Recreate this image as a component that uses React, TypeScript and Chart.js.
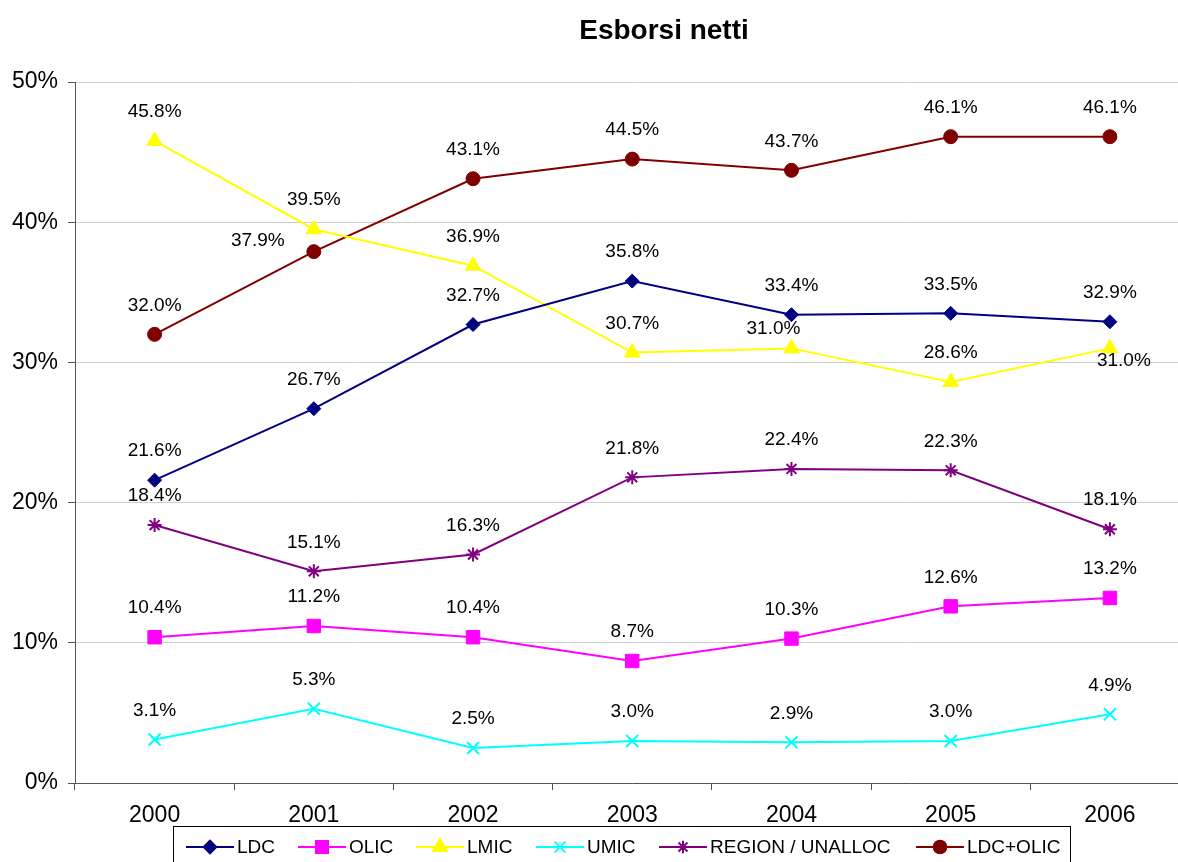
import React, { useEffect, useRef } from "react";
import { Chart, registerables } from "chart.js";
import { drawPoint } from "chart.js/helpers";

Chart.register(...registerables);

const categories = ["2000", "2001", "2002", "2003", "2004", "2005", "2006"];
const yTicks = [0, 10, 20, 30, 40, 50];

const ldc = [21.6, 26.7, 32.7, 35.8, 33.4, 33.5, 32.9];
const olic = [10.4, 11.2, 10.4, 8.7, 10.3, 12.6, 13.2];
const lmic = [45.8, 39.5, 36.9, 30.7, 31.0, 28.6, 31.0];
const umic = [3.1, 5.3, 2.5, 3.0, 2.9, 3.0, 4.9];
const region = [18.4, 15.1, 16.3, 21.8, 22.4, 22.3, 18.1];
const ldcOlic = [32.0, 37.9, 43.1, 44.5, 43.7, 46.1, 46.1];

const seriesNames = ["LDC", "OLIC", "LMIC", "UMIC", "REGION / UNALLOC", "LDC+OLIC"];
const seriesValues = [ldc, olic, lmic, umic, region, ldcOlic];
const seriesColors = ["#000080", "#FF00FF", "#FFFF00", "#00FFFF", "#800080", "#800000"];
const seriesPoints = ["rectRot", "rect", "triangle", "crossRot", "star", "circle"];
const seriesRadius = [7, 9.5, 9, 8.5, 7, 7];

const FONT = 'Arial, "Liberation Sans", sans-serif';

// label offsets (dx, dy) relative to the point; default above
const labelOffsets: Record<string, [number, number]> = {
  "5:1": [-56, -11],
  "2:4": [-18, -20],
  "2:6": [14, 12],
};

const labelsPlugin = {
  id: "dataLabels",
  afterDatasetsDraw(chart: any) {
    const ctx = chart.ctx;
    ctx.save();
    ctx.font = `19px ${FONT}`;
    ctx.fillStyle = "#000";
    ctx.textAlign = "center";
    ctx.textBaseline = "middle";
    chart.data.datasets.forEach((ds: any, di: number) => {
      const meta = chart.getDatasetMeta(di);
      meta.data.forEach((pt: any, i: number) => {
        const off = labelOffsets[`${di}:${i}`] || [0, -29];
        ctx.fillText(ds.data[i].toFixed(1) + "%", pt.x + off[0], pt.y + off[1]);
      });
    });
    ctx.restore();
  },
};

const legendItemsX = [210, 322, 440, 560, 683, 940];

const decorPlugin = {
  id: "decor",
  afterDraw(chart: any) {
    const ctx = chart.ctx;
    ctx.save();
    // title
    ctx.font = `bold 28px ${FONT}`;
    ctx.fillStyle = "#000";
    ctx.textAlign = "center";
    ctx.textBaseline = "middle";
    ctx.fillText("Esborsi netti", 664, 31);
    // legend box
    ctx.fillStyle = "#fff";
    ctx.fillRect(173, 826, 897, 50);
    ctx.strokeStyle = "#000";
    ctx.lineWidth = 1;
    ctx.strokeRect(173.5, 826.5, 897, 50);
    const ly = 847;
    seriesNames.forEach((name, i) => {
      const mx = legendItemsX[i];
      ctx.strokeStyle = seriesColors[i];
      ctx.lineWidth = 2;
      ctx.beginPath();
      ctx.moveTo(mx - 24, ly);
      ctx.lineTo(mx + 24, ly);
      ctx.stroke();
      ctx.fillStyle = seriesColors[i];
      ctx.strokeStyle = seriesColors[i];
      ctx.lineWidth = 2;
      drawPoint(
        ctx,
        { pointStyle: seriesPoints[i] as any, radius: seriesRadius[i] * 0.9, rotation: 0, borderWidth: 2 } as any,
        mx,
        ly
      );
      ctx.fillStyle = "#000";
      ctx.textAlign = "left";
      ctx.textBaseline = "middle";
      ctx.font = `19px ${FONT}`;
      ctx.fillText(name, mx + 27, ly + 1);
    });
    ctx.restore();
  },
};

export default function App() {
  const ref = useRef<HTMLCanvasElement>(null);
  useEffect(() => {
    if (!ref.current) return;
    const chart = new Chart(ref.current, {
      type: "line",
      data: {
        labels: categories,
        datasets: seriesNames.map((name, i) => ({
          label: name,
          data: seriesValues[i],
          borderColor: seriesColors[i],
          backgroundColor: seriesColors[i],
          pointBackgroundColor: seriesColors[i],
          pointBorderColor: seriesColors[i],
          pointStyle: seriesPoints[i] as any,
          pointRadius: seriesRadius[i],
          pointBorderWidth: i === 3 || i === 4 ? 2 : 1,
          borderWidth: 2,
          tension: 0,
          fill: false,
        })),
      },
      options: {
        responsive: false,
        animation: false,
        layout: { padding: { top: 82, left: 0, right: 7, bottom: 0 } },
        plugins: {
          legend: { display: false },
          title: { display: false },
          tooltip: { enabled: false },
        },
        scales: {
          x: {
            type: "category",
            offset: true,
            grid: {
              drawOnChartArea: false,
              offset: true,
              tickLength: 7,
              tickColor: "#555",
            },
            border: { color: "#555", width: 1 },
            ticks: {
              color: "#000",
              font: { family: FONT, size: 23 },
              padding: 12,
              maxRotation: 0,
            },
            afterFit(scale: any) {
              scale.height = 79;
            },
          },
          y: {
            min: 0,
            max: 50,
            afterBuildTicks(scale: any) {
              scale.ticks = yTicks.map((v) => ({ value: v }));
            },
            grid: {
              color: "#cfcfcf",
              tickLength: 7,
              tickColor: "#555",
            },
            border: { color: "#555", width: 1 },
            ticks: {
              color: "#000",
              font: { family: FONT, size: 23 },
              padding: 10,
              callback: (v: any) => `${v}%`,
            },
            afterFit(scale: any) {
              scale.width = 75;
            },
          },
        },
      },
      plugins: [labelsPlugin, decorPlugin],
    });
    return () => chart.destroy();
  }, []);
  return (
    <div
      style={{
        position: "absolute",
        left: 0,
        top: 0,
        width: 1178,
        height: 862,
        overflow: "hidden",
        background: "#fff",
      }}
    >
      <canvas ref={ref} width={1200} height={862} style={{ display: "block", width: 1200, height: 862 }} />
    </div>
  );
}
